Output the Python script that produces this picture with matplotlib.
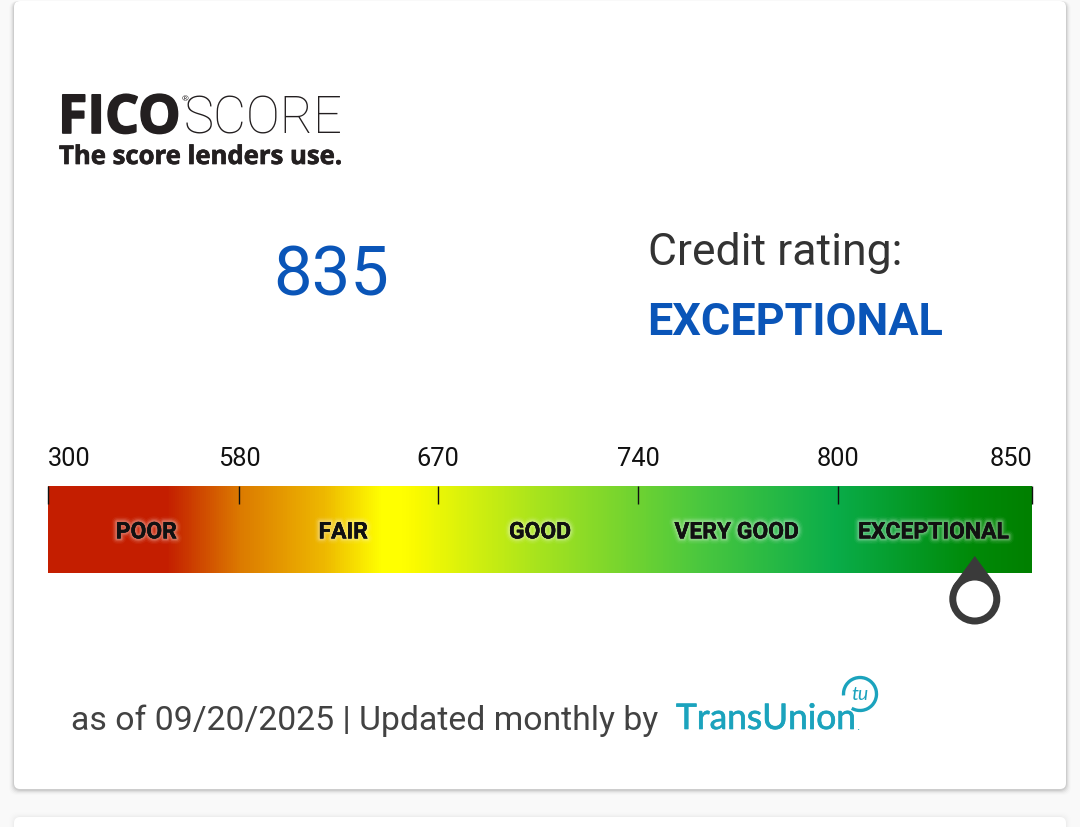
import numpy as np
import matplotlib
matplotlib.use("Agg")
import matplotlib.pyplot as plt
import matplotlib.patheffects as pe
from matplotlib.colors import LinearSegmentedColormap
from matplotlib.patches import FancyBboxPatch, Circle, Polygon, Arc

score = 835
rating = "EXCEPTIONAL"
as_of = "as of 09/20/2025 | Updated monthly by"

tick_scores = [300, 580, 670, 740, 800, 850]
band_names = ["POOR", "FAIR", "GOOD", "VERY GOOD", "EXCEPTIONAL"]

# where each tick sits along the bar, in band units (not quite even in the original)
tick_pos = [0.0, 0.973, 1.982, 2.998, 4.014, 5.0]

# gradient stops, position in band units (0-5) and colour
stop_pos = [0.0, 0.60, 0.97, 1.40, 1.69, 1.80, 1.86, 2.5, 3.3, 4.0, 4.70, 5.0]
stop_cols = ["#c41e00", "#c41e00", "#dc7a00", "#eeb800", "#ffff00", "#ffff00",
             "#fbfb00", "#a6e31e", "#4cc83e", "#0aad4a", "#008a08", "#008000"]

W, H = 1080, 828
BLUE = "#0a55b8"
TEAL = "#1ba3bd"
DARK = "#3a3a3a"

plt.rcParams["font.family"] = ["Roboto", "DejaVu Sans"]

fig = plt.figure(figsize=(W / 100, H / 100), dpi=100, facecolor="#f9f9f9")


def pixel_axes(zorder):
    a = fig.add_axes([0, 0, 1, 1], zorder=zorder)
    a.set_xlim(0, W)
    a.set_ylim(H, 0)
    a.axis("off")
    return a


ax = pixel_axes(0)

# --- cards with soft shadow ---
for grow, alpha in [(5, 0.012), (4, 0.02), (3, 0.03), (2, 0.05), (1, 0.07)]:
    ax.add_patch(FancyBboxPatch((14 - grow, 2), 1052 + 2 * grow, 788 + grow + 1,
                                boxstyle="round,pad=0,rounding_size=8",
                                fc="black", ec="none", alpha=alpha))
    ax.add_patch(FancyBboxPatch((14 - grow, 818 - grow), 1052 + 2 * grow, 40,
                                boxstyle="round,pad=0,rounding_size=8",
                                fc="black", ec="none", alpha=alpha * 0.25))
ax.add_patch(FancyBboxPatch((14, 2), 1052, 788, boxstyle="round,pad=0,rounding_size=6",
                            fc="white", ec="none"))
ax.add_patch(FancyBboxPatch((14, 818), 1052, 40, boxstyle="round,pad=0,rounding_size=6",
                            fc="white", ec="none"))

# --- logo ---
heavy = [pe.withStroke(linewidth=1.2, foreground="#231f20")]
ax.text(58, 134, "FICO", fontfamily="Open Sans", fontweight="bold", fontsize=38.5,
        color="#231f20", va="baseline", ha="left", path_effects=heavy)
ax.text(182, 101, "®", fontfamily="Open Sans", fontsize=6, color="#231f20", va="baseline")
ax.text(184, 134, "SCORE", fontfamily="Roboto", fontweight="light", fontsize=36.5,
        color="#231f20", va="baseline", ha="left")
ax.text(59, 165, "The score lenders use.", fontfamily="Open Sans", fontweight="bold",
        fontsize=18.5, color="#231f20", va="baseline", ha="left",
        path_effects=[pe.withStroke(linewidth=0.5, foreground="#231f20")])

# --- score and rating ---
ax.text(331, 296, str(score), fontsize=49.5, color=BLUE, ha="center", va="baseline")
ax.text(648, 265, "Credit rating:", fontsize=32, color="#333333", ha="left", va="baseline")
ax.text(647, 335, rating, fontsize=32.4, fontweight="bold", color=BLUE, ha="left", va="baseline")

# --- footer ---
ax.text(71, 730, as_of, fontsize=24.3, color="#424242", ha="left", va="baseline")
ax.text(676, 730, "TransUnion", fontfamily="Lato", fontsize=25.4, color=TEAL,
        ha="left", va="baseline", path_effects=[pe.withStroke(linewidth=0.5, foreground=TEAL)])
ax.text(856, 730, ".", fontsize=9, color=TEAL, ha="left", va="baseline")
ax.add_patch(Arc((860, 695), 33, 33, theta1=175, theta2=480, color=TEAL, lw=2.4))
ax.text(860, 700, "tu", fontfamily="Lato", fontstyle="italic", fontsize=14, color=TEAL,
        ha="center", va="baseline")

# --- gradient bar, x axis runs in band units ---
bar = fig.add_axes([48 / W, 1 - 574 / H, 984 / W, 87.5 / H], zorder=1)
cmap = LinearSegmentedColormap.from_list(
    "fico", [(p / 5, c) for p, c in zip(stop_pos, stop_cols)], N=512)
bar.imshow(np.linspace(0, 1, 984).reshape(1, -1), cmap=cmap, aspect="auto",
           extent=[0, 5, 0, 1], vmin=0, vmax=1)
for s in bar.spines.values():
    s.set_visible(False)
bar.set_yticks([])
bar.set_xticks(tick_pos)
bar.set_xticklabels(tick_scores, fontsize=18.3, color="#111111")
bar.tick_params(axis="x", top=True, bottom=False, labeltop=True, labelbottom=False,
                direction="in", length=13, width=1, color="#111111", pad=11)
labels = bar.get_xticklabels()
labels[0].set_ha("left")
labels[-1].set_ha("right")

glow = [pe.withStroke(linewidth=w, foreground="white", alpha=a)
        for w, a in [(8, 0.04), (6, 0.07), (4, 0.12), (2.5, 0.15)]]
for i, name in enumerate(band_names):
    bar.text(i + 0.5, 0.47, name, fontsize=16.5, fontweight="bold", color="#111111",
             ha="center", va="center", path_effects=glow + [pe.Normal()])

# --- marker ---
fg = pixel_axes(2)
fg.patch.set_visible(False)
mx = 49 + 984 / 5 * np.interp(score, tick_scores, tick_pos)
fg.add_patch(Polygon([[mx, 557], [mx - 22, 587], [mx + 22, 587]], closed=True,
                     fc=DARK, ec="none"))
fg.add_patch(Circle((mx, 600), 25.5, fc=DARK, ec="none"))
fg.add_patch(Circle((mx, 600), 18.5, fc="white", ec="none"))

fig.savefig("out.png", dpi=100, facecolor=fig.get_facecolor())
